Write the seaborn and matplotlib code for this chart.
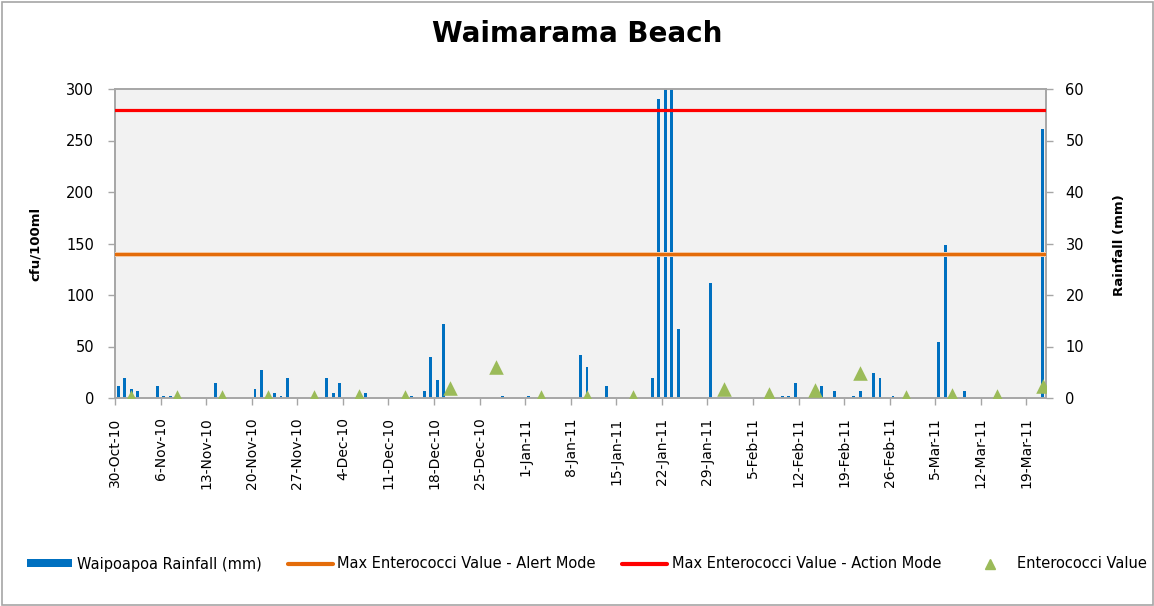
import numpy as np
import pandas as pd
import matplotlib
matplotlib.use("Agg")
import matplotlib.pyplot as plt
import matplotlib.patheffects as pe
from matplotlib.lines import Line2D
from matplotlib.patches import Patch, Rectangle
from matplotlib.transforms import ScaledTranslation
import seaborn as sns

# ---- data -------------------------------------------------------------
start_date = "2010-10-30"
end_date = "2011-03-21"

rain_dates = [
    "2010-10-30", "2010-10-31", "2010-11-01", "2010-11-02", "2010-11-05",
    "2010-11-06", "2010-11-07", "2010-11-14", "2010-11-20", "2010-11-21",
    "2010-11-23", "2010-11-24", "2010-11-25", "2010-12-01", "2010-12-02",
    "2010-12-03", "2010-12-07", "2010-12-14", "2010-12-16", "2010-12-17",
    "2010-12-18", "2010-12-19", "2010-12-28", "2011-01-01", "2011-01-09",
    "2011-01-10", "2011-01-13", "2011-01-20", "2011-01-21", "2011-01-22",
    "2011-01-23", "2011-01-24", "2011-01-29", "2011-02-09", "2011-02-10",
    "2011-02-11", "2011-02-15", "2011-02-17", "2011-02-20", "2011-02-21",
    "2011-02-23", "2011-02-24", "2011-02-26", "2011-03-05", "2011-03-06",
    "2011-03-09", "2011-03-21",
]
rain_mm = [
    2.4, 3.9, 1.8, 1.3, 2.4,
    0.3, 0.3, 2.9, 1.8, 5.4,
    0.9, 0.3, 3.9, 3.9, 0.9,
    2.9, 0.9, 0.3, 1.3, 8.0,
    3.4, 14.4, 0.3, 0.3, 8.3,
    6.0, 2.4, 3.9, 58.0, 76.5,
    64.0, 13.4, 22.4, 0.3, 0.3,
    2.9, 2.4, 1.3, 0.3, 1.3,
    4.9, 3.9, 0.3, 10.8, 29.8,
    1.3, 52.3,
]

ent_dates = [
    "2010-11-01", "2010-11-08", "2010-11-15", "2010-11-22", "2010-11-29",
    "2010-12-06", "2010-12-13", "2010-12-20", "2010-12-27", "2011-01-03",
    "2011-01-10", "2011-01-17", "2011-01-31", "2011-02-07", "2011-02-14",
    "2011-02-21", "2011-02-28", "2011-03-07", "2011-03-14", "2011-03-21",
]
ent_values = [
    1, 1, 1, 1, 1,
    2, 1, 10, 30, 1,
    1, 1, 9, 4, 8,
    24, 1, 3, 2, 12,
]

alert_limit = 140
action_limit = 280

tick_labels = [
    "30-Oct-10", "6-Nov-10", "13-Nov-10", "20-Nov-10", "27-Nov-10",
    "4-Dec-10", "11-Dec-10", "18-Dec-10", "25-Dec-10", "1-Jan-11",
    "8-Jan-11", "15-Jan-11", "22-Jan-11", "29-Jan-11", "5-Feb-11",
    "12-Feb-11", "19-Feb-11", "26-Feb-11", "5-Mar-11", "12-Mar-11",
    "19-Mar-11",
]

title = "Waimarama Beach"
left_label = "cfu/100ml"
right_label = "Rainfall (mm)"
legend_labels = [
    "Waipoapoa Rainfall (mm)",
    "Max Enterococci Value - Alert Mode",
    "Max Enterococci Value - Action Mode",
    "Enterococci Value",
]

# ---- colours ----------------------------------------------------------
BAR_BLUE = "#0070C0"
ALERT_ORANGE = "#E46C0A"
ACTION_RED = "#FF0000"
MARKER_GREEN = "#9BBB59"
GRID_GREY = "#A6A6A6"
PLOT_BG = "#F2F2F2"

sns.set_theme(style="white")
plt.rcParams["font.family"] = ["DejaVu Sans"]
plt.rcParams["text.color"] = "black"
plt.rcParams["axes.labelcolor"] = "black"
plt.rcParams["xtick.color"] = "black"
plt.rcParams["ytick.color"] = "black"
plt.rcParams["patch.force_edgecolor"] = False

t0 = pd.Timestamp(start_date)
n_days = (pd.Timestamp(end_date) - t0).days + 1
rain_df = pd.DataFrame({
    "day": (pd.to_datetime(rain_dates) - t0).days,
    "mm": rain_mm,
})
ent_df = pd.DataFrame({
    "day": (pd.to_datetime(ent_dates) - t0).days,
    "cfu": ent_values,
})

W, H = 1154, 606
fig = plt.figure(figsize=(W / 100, H / 100), dpi=100)
ax = fig.add_axes([115 / W, 1 - 398 / H, (1046 - 115) / W, (398 - 89) / H])
ax.set_facecolor(PLOT_BG)

# rainfall bars (right-hand scale), drawn underneath
sns.barplot(data=rain_df, x="day", y="mm", native_scale=True, orient="x",
            width=0.45, color=BAR_BLUE, saturation=1, errorbar=None,
            linewidth=0, edgecolor="none", ax=ax)
ax.set_ylim(0, 60)
ax.set_xlim(-0.5, n_days - 0.5)

# enterococci axis (left-hand scale), drawn on top
ax2 = ax.twinx()
ax.yaxis.tick_right()
ax.yaxis.set_label_position("right")
ax2.yaxis.tick_left()
ax2.yaxis.set_label_position("left")
ax2.set_ylim(0, 300)

ax2.axhline(alert_limit, color=ALERT_ORANGE, lw=2.3, zorder=3,
            path_effects=[pe.Stroke(linewidth=3.6, foreground="#F6D2B4"), pe.Normal()])
ax2.axhline(action_limit, color=ACTION_RED, lw=2.3, zorder=3)
sns.scatterplot(data=ent_df, x="day", y="cfu", marker="^", s=110,
                color=MARKER_GREEN, linewidth=0, zorder=4, ax=ax2, legend=False)
ax2.set_xlim(-0.5, n_days - 0.5)

# ticks and spines
ax.set_xticks(np.arange(0, n_days - 1, 7) - 0.5)
ax.set_xticklabels(tick_labels, rotation=90, va="top", ha="center")
shift = ScaledTranslation(6 / 100, 0, fig.dpi_scale_trans)
for lab in ax.get_xticklabels():
    lab.set_transform(lab.get_transform() + shift)
ax.set_yticks(range(0, 61, 10))
ax2.set_yticks(range(0, 301, 50))

for a in (ax, ax2):
    for s in a.spines.values():
        s.set_color(GRID_GREY)
        s.set_linewidth(1.2)
    a.set_xlabel("")
    a.set_ylabel("")
ax.tick_params(axis="x", direction="out", length=5, width=1, color=GRID_GREY,
               pad=9, labelsize=10, labelcolor="black", bottom=True)
ax.tick_params(axis="y", direction="out", length=5, width=1, color=GRID_GREY,
               pad=9, labelsize=10.5, labelcolor="black", right=True, left=False)
ax2.tick_params(axis="y", direction="out", length=5, width=1, color=GRID_GREY,
                pad=10, labelsize=10.5, labelcolor="black", left=True, right=False)

# text
fig.text(0.5, 1 - 34.5 / H, title, ha="center", va="center",
         fontsize=20, fontweight="bold", color="black")
fig.text(35 / W, 1 - 244 / H, left_label, rotation=90, ha="center",
         va="center", fontsize=9.5, fontweight="bold", color="black")
fig.text(1120 / W, 1 - 245 / H, right_label, rotation=90, ha="center",
         va="center", fontsize=9.5, fontweight="bold", color="black")

# legend
handles = [
    Patch(facecolor=BAR_BLUE, edgecolor="none"),
    Line2D([], [], color=ALERT_ORANGE, lw=3),
    Line2D([], [], color=ACTION_RED, lw=3),
    Line2D([], [], color=MARKER_GREEN, lw=0, marker="^", markersize=7),
]
fig.legend(handles, legend_labels, loc="center", ncol=4, frameon=False,
           bbox_to_anchor=(587 / W, 1 - 564 / H), fontsize=10.5,
           handlelength=3.1, handleheight=0.45, handletextpad=0.3,
           columnspacing=1.8, labelcolor="black")

# chart-area border
fig.patches.append(Rectangle((1.5 / W, 1.5 / H), (W - 3) / W, (H - 3) / H,
                             transform=fig.transFigure, fill=False,
                             edgecolor=GRID_GREY, linewidth=1.2))

fig.savefig("out.png", dpi=100)
